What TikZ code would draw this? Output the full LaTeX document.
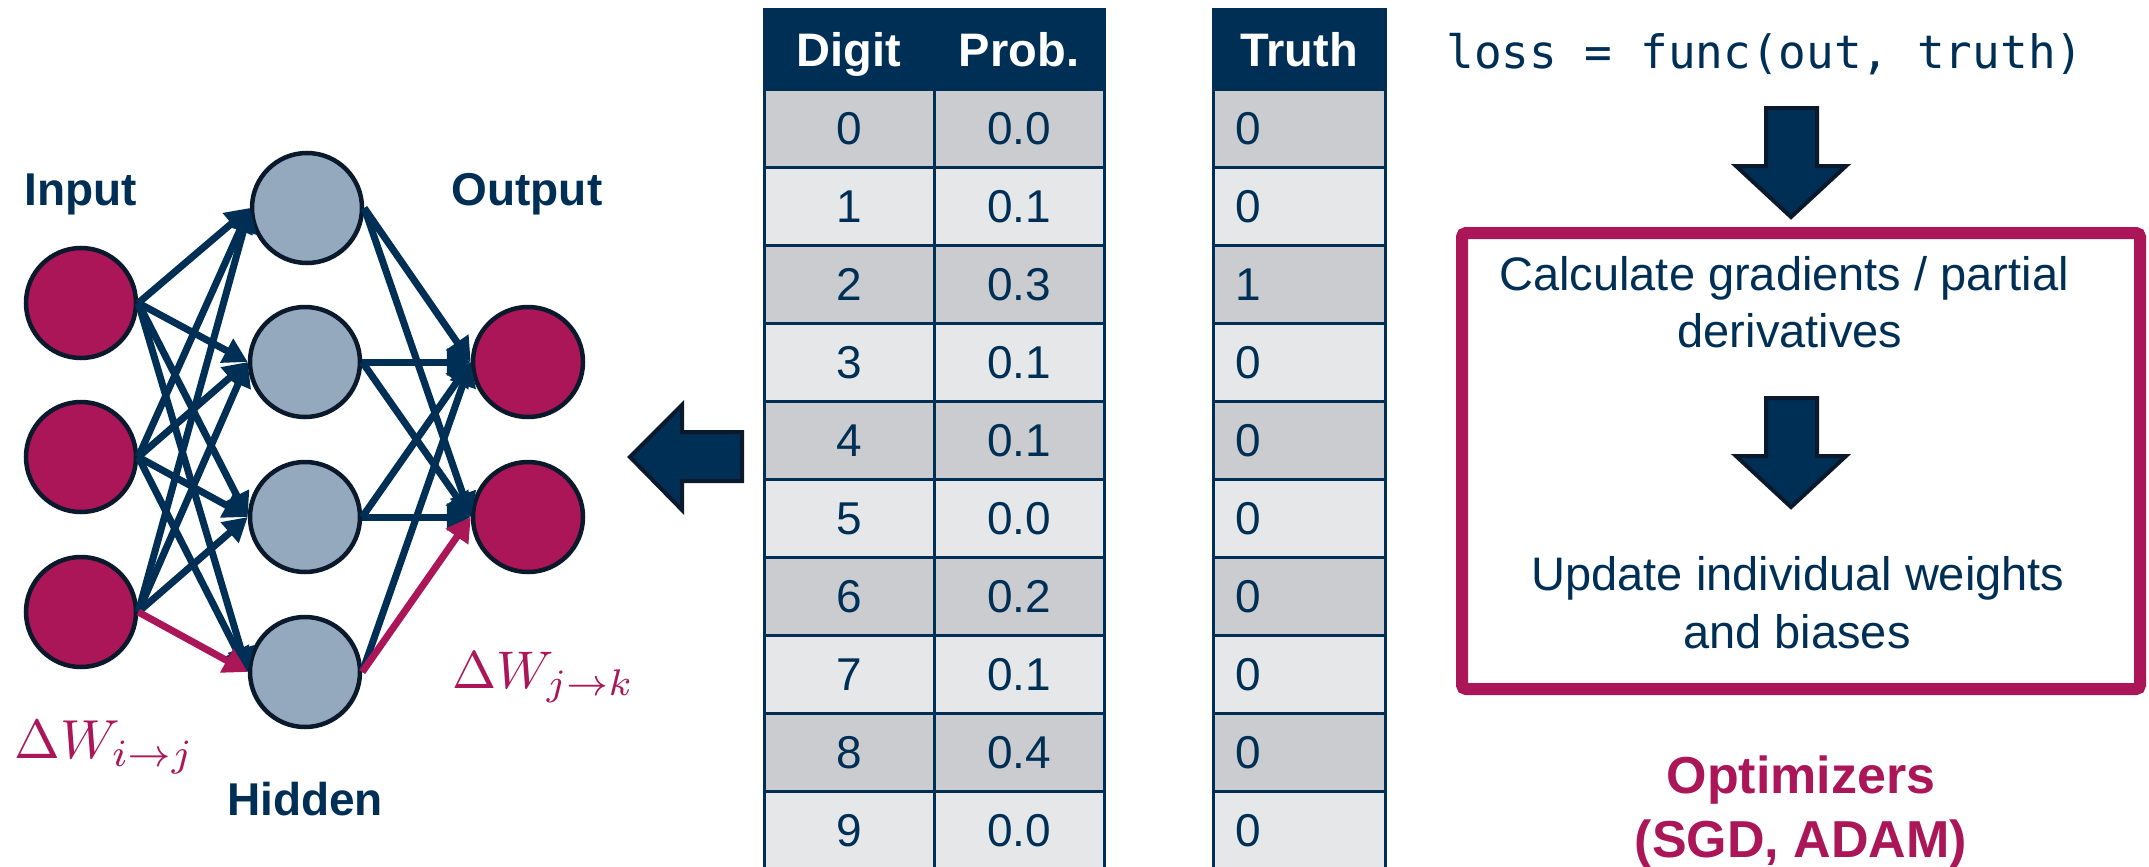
\documentclass[tikz,border=0pt]{standalone}
\usepackage{graphicx}
\usepackage{fontspec}
\setmainfont{Liberation Sans}
\newfontfamily\codefont{DejaVu Sans Mono}
\usetikzlibrary{arrows.meta}
\definecolor{navy}{HTML}{002F56}
\definecolor{mag}{HTML}{AA1657}
\definecolor{hid}{HTML}{94A9BE}
\definecolor{rim}{HTML}{0A1A2C}
\definecolor{rowdark}{HTML}{CBCCD0}
\definecolor{rowlight}{HTML}{E6E7E9}
\newcommand{\fsz}[1]{\fontsize{#1}{#1}\selectfont}
\begin{document}
\begin{tikzpicture}[x=1pt,y=-1pt,
  neuron/.style={circle, draw=rim, line width=4.5pt, minimum size=110pt, inner sep=0pt},
  inneuron/.style={neuron, fill=mag},
  hidneuron/.style={neuron, fill=hid},
  wire/.style={draw=navy, line width=7pt, -{Triangle[length=24pt,width=26pt]}},
  hotwire/.style={wire, draw=mag},
  layerlbl/.style={text=navy, font=\fsz{46}\bfseries, inner sep=0pt, anchor=base},
  deltalbl/.style={text=mag, inner sep=0pt, anchor=base west},
  cell/.style={draw=navy, line width=3pt, minimum height=78pt, inner sep=0pt, outer sep=0pt,
    text=navy, font=\fsz{46}, text height=33pt, text depth=0pt},
  headcell/.style={cell, fill=navy, text=white, font=\fsz{47}\bfseries, minimum height=79pt, text height=34pt},
  bigarrow/.style={fill=navy, draw=rim, line width=4pt, line join=miter},
  boxtxt/.style={text=navy, font=\fsz{47}, inner sep=0pt, anchor=base},
  opttxt/.style={text=mag, font=\fsz{52}\bfseries, inner sep=0pt, anchor=base},
]
\useasboundingbox (0,0) rectangle (2149,867);
\fill[white] (0,0) rectangle (2149,867);
\clip (0,0) rectangle (2149,867);

% ---------- network ----------
\node[layerlbl] (tin) at (81,205) {Input};
\node[layerlbl] (tout) at (527,205) {Output};
\node[layerlbl] (thid) at (305,815) {Hidden};

\node[inneuron] (i1) at (81,303) {};
\node[inneuron] (i2) at (81,457) {};
\node[inneuron] (i3) at (81,612) {};
\node[hidneuron] (h1) at (307,208) {};
\node[hidneuron] (h2) at (305,362) {};
\node[hidneuron] (h3) at (305,517) {};
\node[hidneuron] (h4) at (305,672) {};
\node[inneuron] (o1) at (528,362) {};
\node[inneuron] (o2) at (528,517) {};

\foreach \a in {1,2,3}{
  \foreach \b in {1,2,3,4}{
    \ifnum\a\b=34\relax\else
      \draw[wire] (i\a.east) -- (h\b.west);
    \fi
  }
}
\foreach \b in {1,2,3,4}{
  \foreach \c in {1,2}{
    \ifnum\b\c=42\relax\else
      \draw[wire] (h\b.east) -- (o\c.west);
    \fi
  }
}
\draw[hotwire] (i3.east) -- (h4.west);
\draw[hotwire] (h4.east) -- (o2.west);

\node[deltalbl] (dwij) at (14,758) {\scalebox{5.5}{$\Delta W_{i\rightarrow j}$}};
\node[deltalbl] (dwjk) at (452,688) {\scalebox{5.3}{$\Delta W_{j\rightarrow k}$}};

% ---------- big left arrow ----------
\draw[bigarrow] (742,432) -- (682,432) -- (682,405) -- (630,457) -- (682,510) -- (682,481) -- (742,481) -- cycle;

% ---------- probability table ----------
\node[headcell, minimum width=170pt] (hdig) at (849,49.5) {Digit};
\node[headcell, minimum width=170pt] (hprob) at (1019,49.5) {Prob.};
\node[headcell, minimum width=172pt] (htruth) at (1299,49.5) {Truth};
\foreach \d/\p/\t [count=\i from 0] in {0/0.0/0,1/0.1/0,2/0.3/1,3/0.1/0,4/0.1/0,5/0.0/0,6/0.2/0,7/0.1/0,8/0.4/0,9/0.0/0}{
  \ifodd\i \def\rc{rowlight}\else \def\rc{rowdark}\fi
  \pgfmathsetmacro\yy{128+78*\i}
  \node[cell, fill=\rc, minimum width=170pt] (dg\i) at (849,\yy) {\d};
  \node[cell, fill=\rc, minimum width=170pt] (pr\i) at (1019,\yy) {\p};
  \node[cell, fill=\rc, minimum width=172pt] (tr\i) at (1299,\yy) {\makebox[128pt][l]{\t}};
}

% ---------- loss and optimizer ----------
\node[text=navy, font=\codefont\fsz{46}, inner sep=0pt, anchor=base] (loss) at (1765,68) {loss = func(out, truth)};
\draw[bigarrow] (1766,108) -- (1817,108) -- (1817,166) -- (1846,166) -- (1791,217) -- (1736,166) -- (1766,166) -- cycle;

\node[draw=mag, line width=12pt, rounded corners=4pt, minimum width=678pt, minimum height=456pt, inner sep=0pt] (optbox) at (1801,461) {};
\node[boxtxt] (calc1) at (1784,290) {Calculate gradients / partial};
\node[boxtxt] (calc2) at (1790,347) {derivatives};
\draw[bigarrow] (1766,398) -- (1817,398) -- (1817,456) -- (1846,456) -- (1791,507) -- (1736,456) -- (1766,456) -- cycle;
\node[boxtxt] (upd1) at (1798,590) {Update individual weights};
\node[boxtxt] (upd2) at (1797,648) {and biases};

\node[opttxt] (opt1) at (1801,793) {Optimizers};
\node[opttxt] (opt2) at (1801,857) {(SGD, ADAM)};
\end{tikzpicture}
\end{document}
